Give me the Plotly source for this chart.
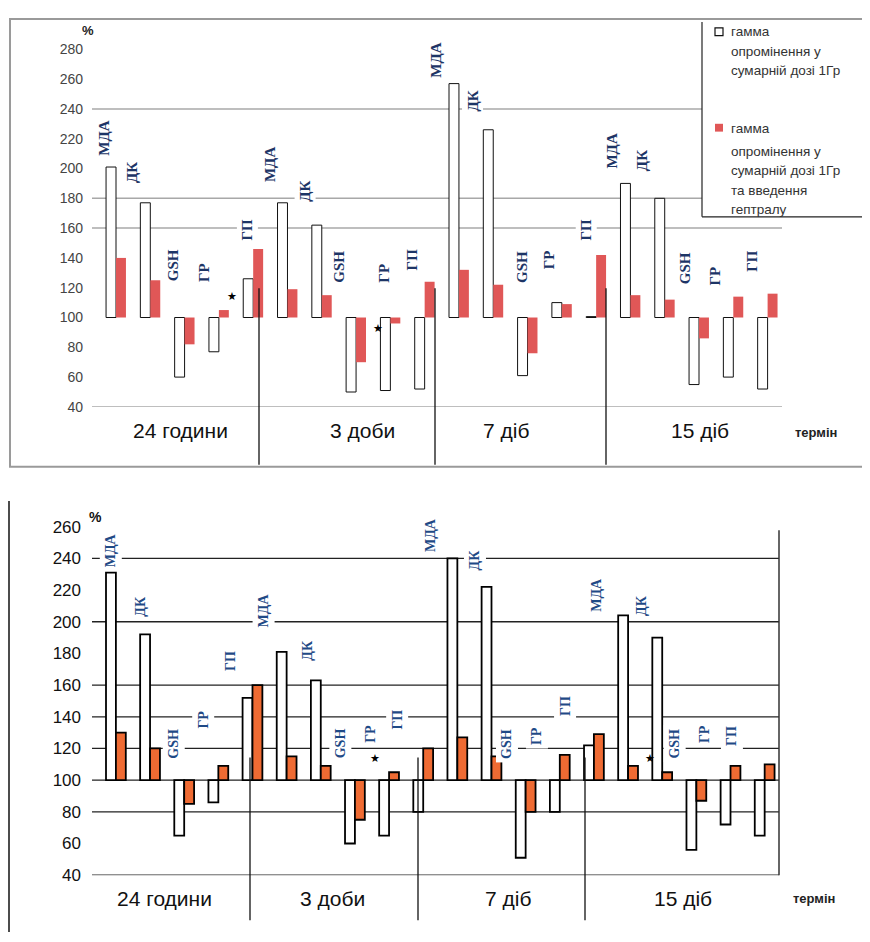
import plotly.graph_objects as go

# ---------------- data ----------------
groups = ["24 години", "3 доби", "7 діб", "15 діб"]
indicators = ["МДА", "ДК", "GSH", "ГР", "ГП"]

# upper panel (% of control)
top_gamma = [201, 177, 60, 77, 126,
             177, 162, 50, 51, 52,
             257, 226, 61, 110, 100.6,
             190, 180, 55, 60, 52]
top_heptral = [140, 125, 82, 105, 146,
               119, 115, 70, 96, 124,
               132, 122, 76, 109, 142,
               115, 112, 86, 114, 116]

# lower panel (% of control)
bot_gamma = [231, 192, 65, 86, 152,
             181, 163, 60, 65, 80,
             240, 222, 51, 80, 122,
             204, 190, 56, 72, 65]
bot_heptral = [130, 120, 85, 109, 160,
               115, 109, 75, 105, 120,
               127, 115, 80, 116, 129,
               109, 105, 87, 109, 110]

top_ticks = list(range(40, 281, 20))
bot_ticks = list(range(40, 261, 20))

legend_1 = ["гамма", "опромінення у", "сумарній дозі 1Гр"]
legend_2 = ["гамма", "опромінення у", "сумарній дозі 1Гр", "та введення", "гептралу"]

# label positions (x in slot units, y in % units)
top_lab_x = [-0.35, 0.47, 1.66, 2.57, 3.82,
             4.49, 5.51, 6.50, 7.81, 8.63,
             9.33, 10.41, 11.84, 12.65, 13.70,
             14.46, 15.34, 16.59, 17.46, 18.54]
top_lab_y = [220, 197, 135, 130, 159,
             203, 185, 134, 130, 139,
             273, 245, 134, 139, 159,
             212, 205, 133, 128, 138]
bot_lab_x = [-0.15, 0.73, 1.70, 2.57, 3.36,
             4.33, 5.61, 6.58, 7.46, 8.25,
             9.21, 10.53, 11.46, 12.34, 13.16,
             14.09, 15.41, 16.37, 17.22, 18.05]
bot_lab_y = [245, 210, 123, 138, 175,
             207, 182, 123, 129, 138,
             255, 239, 123, 128, 147,
             217, 210, 123, 129, 128]

# page body has an 8px margin: the figure is placed at (8, 8)
OFF = 8
W, H = 870 - OFF, 942 - OFF
def px(v):
    return (v - OFF) / W
def py(v):
    return 1 - (v - OFF) / H

slots = list(range(len(top_gamma)))
labels = [ind for _ in groups for ind in indicators]

RED = "#E05757"
ORANGE = "#EF6B33"

fig = go.Figure()

# upper panel bars
fig.add_trace(go.Bar(x=slots, y=[v - 100 for v in top_gamma], base=100,
                     marker=dict(color="white", line=dict(color="#111", width=1)),
                     xaxis="x", yaxis="y", showlegend=False))
fig.add_trace(go.Bar(x=slots, y=[v - 100 for v in top_heptral], base=100,
                     marker=dict(color=RED, line=dict(color=RED, width=0)),
                     xaxis="x", yaxis="y", showlegend=False))
# lower panel bars
fig.add_trace(go.Bar(x=slots, y=[v - 100 for v in bot_gamma], base=100,
                     marker=dict(color="white", line=dict(color="#000", width=1.8)),
                     xaxis="x2", yaxis="y2", showlegend=False))
fig.add_trace(go.Bar(x=slots, y=[v - 100 for v in bot_heptral], base=100,
                     marker=dict(color=ORANGE, line=dict(color="#000", width=1.8)),
                     xaxis="x2", yaxis="y2", showlegend=False))

shapes = []
# upper frame
shapes.append(dict(type="rect", xref="paper", yref="paper", x0=px(10), x1=px(872),
                   y0=py(467), y1=py(10), line=dict(color="#9a9a9a", width=2), layer="below"))
# upper gridlines
for v in [240, 180, 160, 40]:
    shapes.append(dict(type="line", xref="paper", yref="y", x0=px(92), x1=px(782),
                       y0=v, y1=v, line=dict(color="#a8a8a8", width=1.5), layer="below"))
# lower gridlines
for v in [240, 200, 160, 140, 120, 100, 80, 40]:
    shapes.append(dict(type="line", xref="paper", yref="y2", x0=px(92), x1=px(779),
                       y0=v, y1=v, line=dict(color="#222", width=1.3), layer="below"))
# lower right border and left page line
shapes.append(dict(type="line", xref="paper", yref="paper", x0=px(779), x1=px(779),
                   y0=py(884), y1=py(532), line=dict(color="#333", width=1.5)))
shapes.append(dict(type="line", xref="paper", yref="paper", x0=px(9), x1=px(9),
                   y0=py(942), y1=py(502), line=dict(color="#111", width=1.5)))
# group separators
for xs in [259, 435, 606]:
    shapes.append(dict(type="line", xref="paper", yref="paper", x0=px(xs), x1=px(xs),
                       y0=py(465), y1=py(285), line=dict(color="#111", width=1.3), layer="above"))
for xs in [250, 418, 585]:
    shapes.append(dict(type="line", xref="paper", yref="paper", x0=px(xs), x1=px(xs),
                       y0=py(930), y1=py(764), line=dict(color="#111", width=1.3), layer="above"))
# legend box
shapes.append(dict(type="rect", xref="paper", yref="paper", x0=px(702), x1=px(867),
                   y0=py(212), y1=py(12), fillcolor="white", line=dict(width=0), layer="above"))
shapes.append(dict(type="line", xref="paper", yref="paper", x0=px(702), x1=px(702),
                   y0=py(212), y1=py(13), line=dict(color="#222", width=1.2), layer="above"))
shapes.append(dict(type="line", xref="paper", yref="paper", x0=px(702), x1=px(867),
                   y0=py(212), y1=py(212), line=dict(color="#222", width=1.2), layer="above"))
shapes.append(dict(type="rect", xref="paper", yref="paper", x0=px(715), x1=px(723),
                   y0=py(27), y1=py(19), fillcolor="white", line=dict(color="#111", width=1.2), layer="above"))
shapes.append(dict(type="rect", xref="paper", yref="paper", x0=px(715), x1=px(723),
                   y0=py(125), y1=py(117), fillcolor=RED, line=dict(width=0), layer="above"))

ann = []
LABEL_FONT_T = dict(family="Liberation Serif, Times New Roman, serif", size=15, color="#1d3566")
LABEL_FONT_B = dict(family="Liberation Serif, Times New Roman, serif", size=14, color="#1f4a86")
for i, lab in enumerate(labels):
    ann.append(dict(x=top_lab_x[i], y=top_lab_y[i], xref="x", yref="y", text="<b>" + lab + "</b>",
                    textangle=-90, showarrow=False, font=LABEL_FONT_T, bgcolor="white", borderpad=2,
                    xanchor="center", yanchor="middle"))
    ann.append(dict(x=bot_lab_x[i], y=bot_lab_y[i], xref="x2", yref="y2", text="<b>" + lab + "</b>",
                    textangle=-90, showarrow=False, font=LABEL_FONT_B, bgcolor="white", borderpad=3,
                    xanchor="center", yanchor="middle"))

# stars
for (sx, sy, xr, yr) in [(3.38, 114.5, "x", "y"), (7.64, 93, "x", "y"),
                         (7.6, 114, "x2", "y2"), (15.64, 114, "x2", "y2")]:
    ann.append(dict(x=sx, y=sy, xref=xr, yref=yr, text="★", showarrow=False,
                    xanchor="center", yanchor="middle", font=dict(size=11, color="black")))

def cap(x, y, text, font):
    return dict(x=px(x), y=py(y), xref="paper", yref="paper", text=text, showarrow=False,
                xanchor="center", yanchor="middle", font=font)

GF = dict(family="Arial, Liberation Sans, sans-serif", size=21, color="#111")
for g, cx in zip(groups, [180, 362, 506, 700]):
    ann.append(cap(cx, 430, g, GF))
for g, cx in zip(groups, [164, 332, 508, 683]):
    ann.append(cap(cx, 908, g, GF))
TF = dict(family="Arial, Liberation Sans, sans-serif", size=13, color="#222")
ann.append(cap(816, 432, "<b>термін</b>", TF))
ann.append(cap(814, 908, "<b>термін</b>", TF))
ann.append(cap(88, 22, "<b>%</b>", dict(family="Arial", size=13, color="#222")))
ann.append(cap(95, 518, "<b>%</b>", dict(family="Arial", size=14, color="#111")))

LF = dict(family="Arial, Liberation Sans, sans-serif", size=13.5, color="#333")
for t, yy in zip(legend_1, [23, 43, 63]):
    ann.append(dict(x=px(729), y=py(yy), xref="paper", yref="paper", text=t, xanchor="left",
                    yanchor="middle", showarrow=False, font=LF))
for t, yy in zip(legend_2, [122, 145, 165, 185, 205]):
    ann.append(dict(x=px(729), y=py(yy), xref="paper", yref="paper", text=t, xanchor="left",
                    yanchor="middle", showarrow=False, font=LF))

fig.update_layout(
    width=W, height=H, autosize=False,
    margin=dict(l=0, r=0, t=0, b=0),
    paper_bgcolor="white", plot_bgcolor="rgba(0,0,0,0)",
    barmode="group", bargap=0.42, bargroupgap=0,
    shapes=shapes, annotations=ann,
    xaxis=dict(domain=[px(92), px(782)], range=[-0.7, 19.42], showticklabels=False,
               showgrid=False, zeroline=False, anchor="y"),
    yaxis=dict(domain=[py(406), py(41)], range=[40, 280], tickvals=top_ticks,
               showgrid=False, zeroline=False, ticks="", ticklabelstandoff=8,
               tickfont=dict(family="Arial, Liberation Sans", size=14, color="#444"), anchor="x"),
    xaxis2=dict(domain=[px(92), px(779)], range=[-0.7, 19.42], showticklabels=False,
                showgrid=False, zeroline=False, anchor="y2"),
    yaxis2=dict(domain=[py(884), py(528.3)], range=[40, 260], tickvals=bot_ticks,
                showgrid=False, zeroline=False, ticks="", ticklabelstandoff=10,
                tickfont=dict(family="Arial, Liberation Sans", size=17, color="#111"), anchor="x2"),
)

fig.write_html("out.html")
